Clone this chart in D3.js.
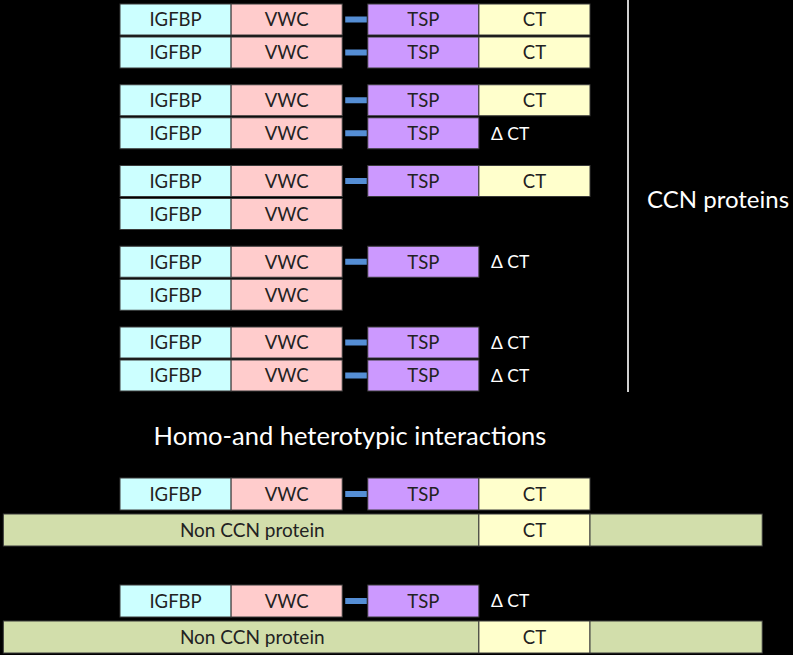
<!DOCTYPE html>
<html>
<head>
<meta charset="utf-8">
<script src="https://cdn.jsdelivr.net/npm/d3@7"></script>
<style>
  html, body { margin: 0; padding: 0; background: #000; }
  svg { display: block; }
</style>
</head>
<body>
<svg id="chart" width="793" height="655"></svg>
<script>
// ---- data ----
const domainNames = ["IGFBP", "VWC", "TSP", "CT"];
const domainColors = ["#ccffff", "#ffcccc", "#cc99ff", "#ffffcc"];
const domainLengths = [1, 1, 1, 1];          // relative domain lengths
const linkerLength = 0.23;                   // hinge between VWC and TSP
const nonCcnSpan = [-1.05, 5.78];            // extent of the non-CCN partner (domain units)
const nonCcnColor = "#d2deab";
const linkerColor = "#558ed5";

// row types: full = all four modules, dCT = CT missing, short = IGFBP+VWC only
const topRows = ["full", "full", "full", "dCT", "full", "short", "dCT", "short", "dCT", "dCT"];
const bottomRows = ["full", "dCT"];
const titleTop = "CCN proteins";
const titleMid = "Homo-and heterotypic interactions";
const nonCcnLabel = "Non CCN protein";
const deltaLabel = "\u0394 CT";

// ---- layout ----
const svg = d3.select("#chart");
const font = "Lato, 'Open Sans', sans-serif";
const x = d3.scaleLinear().domain([0, 4.23]).range([120, 590]);
const yTop = d3.scaleLinear().domain([0, 4]).range([4, 327]);
const yBottom = d3.scaleLinear().domain([0, 1]).range([478, 585]);
const rowH = 31, rowStep = 33;
const boxFont = 18.5;

// domain start positions in domain units
const starts = [];
{
  let s = 0;
  domainLengths.forEach((l, i) => {
    starts.push(s);
    s += l;
    if (i === 1) s += linkerLength;
  });
}

function drawRow(g, type, y0, h) {
  const nDom = type === "full" ? 4 : type === "dCT" ? 3 : 2;
  for (let i = 0; i < nDom; i++) {
    const x0 = x(starts[i]), x1 = x(starts[i] + domainLengths[i]);
    g.append("rect")
      .attr("x", x0).attr("y", y0).attr("width", x1 - x0).attr("height", h)
      .attr("fill", domainColors[i]).attr("stroke", "#3a3a3a").attr("stroke-width", 1);
    g.append("text")
      .attr("x", (x0 + x1) / 2).attr("y", y0 + h / 2).attr("dy", "0.37em")
      .attr("text-anchor", "middle").attr("font-family", font).attr("font-size", boxFont)
      .attr("fill", "#222").text(domainNames[i]);
  }
  if (nDom >= 3) {
    const lx0 = x(starts[1] + domainLengths[1]) + 3, lx1 = x(starts[2]) - 1;
    g.append("rect")
      .attr("x", lx0).attr("y", y0 + h / 2 - 3).attr("width", lx1 - lx0).attr("height", 6)
      .attr("fill", linkerColor);
  }
  if (type === "dCT") {
    g.append("text")
      .attr("x", x(starts[3]) + 12).attr("y", y0 + h / 2).attr("dy", "0.37em")
      .attr("font-family", font).attr("font-size", 17.5).attr("fill", "#fff").text(deltaLabel);
  }
}

function drawNonCcn(g, y0, h) {
  const ctx0 = x(starts[3]), ctx1 = x(starts[3] + domainLengths[3]);
  g.append("rect")
    .attr("x", x(nonCcnSpan[0])).attr("y", y0).attr("width", ctx0 - x(nonCcnSpan[0])).attr("height", h)
    .attr("fill", nonCcnColor).attr("stroke", "#3a3a3a");
  g.append("rect")
    .attr("x", ctx0).attr("y", y0).attr("width", ctx1 - ctx0).attr("height", h)
    .attr("fill", domainColors[3]).attr("stroke", "#3a3a3a");
  g.append("rect")
    .attr("x", ctx1).attr("y", y0).attr("width", x(nonCcnSpan[1]) - ctx1).attr("height", h)
    .attr("fill", nonCcnColor).attr("stroke", "#3a3a3a");
  g.append("text")
    .attr("x", x(1.19)).attr("y", y0 + h / 2).attr("dy", "0.37em")
    .attr("text-anchor", "middle").attr("font-family", font).attr("font-size", 19)
    .attr("fill", "#222").text(nonCcnLabel);
  g.append("text")
    .attr("x", (ctx0 + ctx1) / 2).attr("y", y0 + h / 2).attr("dy", "0.37em")
    .attr("text-anchor", "middle").attr("font-family", font).attr("font-size", boxFont)
    .attr("fill", "#222").text(domainNames[3]);
}

const gTop = svg.append("g");
topRows.forEach((type, i) => {
  const y0 = yTop(Math.floor(i / 2)) + (i % 2) * rowStep;
  drawRow(gTop, type, y0, rowH);
});

const gBot = svg.append("g");
bottomRows.forEach((type, i) => {
  const y0 = yBottom(i);
  drawRow(gBot, type, y0, 32);
  drawNonCcn(gBot, y0 + 36, 32);
});

// bracket line and titles
svg.append("line")
  .attr("x1", 628).attr("x2", 628).attr("y1", 0).attr("y2", 392)
  .attr("stroke", "#cfcfcf").attr("stroke-width", 2);
svg.append("text")
  .attr("x", 647).attr("y", 208).attr("font-family", font).attr("font-size", 24)
  .attr("fill", "#fff").text(titleTop);
svg.append("text")
  .attr("x", 350).attr("y", 445).attr("text-anchor", "middle")
  .attr("font-family", font).attr("font-size", 25.5).attr("fill", "#fff").text(titleMid);
</script>
</body>
</html>
